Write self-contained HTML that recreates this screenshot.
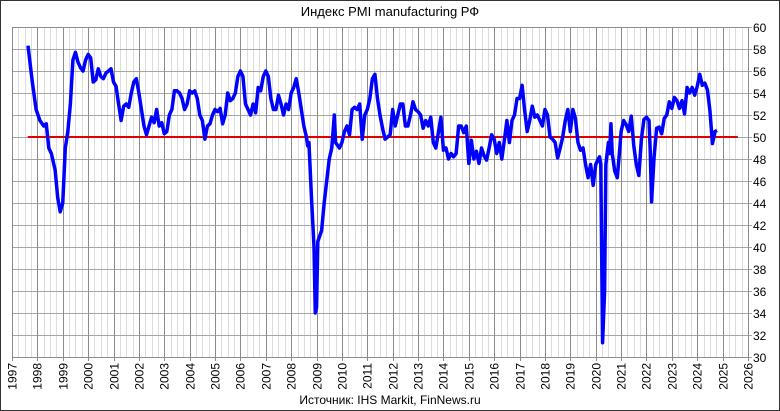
<!DOCTYPE html>
<html><head><meta charset="utf-8"><style>
body{margin:0;background:#fff}
svg{display:block;font-family:"Liberation Sans",sans-serif}
</style></head><body>
<svg width="780" height="411" viewBox="0 0 780 411" xmlns="http://www.w3.org/2000/svg">
<rect x="0.5" y="0.5" width="779" height="410" fill="#fff" stroke="#333"/>
<text x="390" y="16" font-size="13" text-anchor="middle" fill="#000">Индекс PMI manufacturing РФ</text>
<g id="grid"></g>
<g transform="translate(12,357) scale(25.379,-11) translate(-1997,-30)">
<line x1="1997.62" y1="50" x2="2025.6" y2="50" stroke="#e00000" stroke-width="2" vector-effect="non-scaling-stroke"/>
<polyline fill="none" stroke="#0000ff" stroke-width="3.5" stroke-linejoin="round" vector-effect="non-scaling-stroke" points="
1997.63,58.3 1997.8,55 1997.95,52.5 1998.1,51.5 1998.25,51 1998.35,51.2 1998.45,49 1998.55,48.5 1998.7,47 1998.8,44.5 1998.9,43.2 1999.0,44 1999.1,49 1999.2,50.5 1999.3,53 1999.4,57 1999.5,57.7 1999.6,56.8 1999.7,56.3 1999.8,56 1999.9,57 2000.0,57.5 2000.1,57.2 2000.2,55 2000.3,55.2 2000.4,56.2 2000.5,55.5 2000.6,55.3 2000.7,55.8 2000.8,56 2000.9,56.2 2001.0,55 2001.1,54.6 2001.2,53 2001.3,51.5 2001.4,52.8 2001.5,53 2001.6,52.7 2001.7,54 2001.8,55 2001.9,55.3 2002.0,54 2002.1,52.5 2002.2,51 2002.3,50.2 2002.4,51 2002.5,51.8 2002.6,51.3 2002.7,52.5 2002.8,51 2002.9,51.3 2003.0,50.3 2003.1,50.5 2003.2,52 2003.3,52.5 2003.4,54.2 2003.5,54.2 2003.6,54 2003.7,53.5 2003.8,52.5 2003.9,53 2004.0,54.2 2004.1,54 2004.2,54.2 2004.3,53.5 2004.4,52 2004.5,51.5 2004.6,49.8 2004.7,51 2004.8,51.2 2004.9,52 2005.0,52.5 2005.1,52.3 2005.2,52.6 2005.3,51.2 2005.4,52 2005.5,54 2005.6,53.3 2005.7,53.5 2005.8,54 2005.9,55.5 2006.0,56 2006.1,55.5 2006.2,53 2006.3,52.5 2006.4,52 2006.5,53 2006.6,52.2 2006.7,54.5 2006.8,54.2 2006.9,55.5 2007.0,56 2007.1,55.5 2007.2,53.5 2007.3,52.5 2007.4,52.5 2007.5,53.8 2007.6,53 2007.7,52 2007.8,53 2007.9,52.5 2008.0,54 2008.1,54.5 2008.2,55.3 2008.3,54 2008.4,52.5 2008.5,51 2008.6,50 2008.65,49.2 2008.7,49.5 2008.8,44.5 2008.9,40 2008.95,34 2009.0,34.5 2009.05,40.5 2009.2,41.5 2009.3,44 2009.4,46 2009.5,48 2009.6,49 2009.7,52 2009.75,49.5 2009.9,49 2010.0,49.5 2010.1,50.5 2010.2,51 2010.3,50.2 2010.4,52.5 2010.5,52.7 2010.6,52.5 2010.7,53 2010.8,49.8 2010.9,52 2011.0,52.5 2011.1,53.5 2011.2,55.3 2011.3,55.7 2011.4,53.5 2011.5,52 2011.6,50.8 2011.7,49.8 2011.8,50 2011.9,50.2 2012.0,52.5 2012.1,51 2012.2,52 2012.3,53 2012.4,53 2012.5,51 2012.6,51 2012.7,52 2012.8,53.2 2012.9,52.5 2013.0,52.3 2013.1,52 2013.2,50.8 2013.3,51.5 2013.4,51 2013.5,51.8 2013.6,49.5 2013.7,49 2013.8,50.4 2013.9,51.8 2014.0,48.8 2014.1,49 2014.2,48 2014.3,48.5 2014.4,48.2 2014.5,48.5 2014.6,51 2014.7,51 2014.8,50.4 2014.9,51 2015.0,47.6 2015.1,49.7 2015.2,48 2015.3,48.7 2015.4,47.6 2015.5,49 2015.6,48.3 2015.7,47.9 2015.8,49 2015.9,50.2 2016.0,49.8 2016.1,48.5 2016.2,49.5 2016.3,48 2016.4,49.7 2016.5,51.5 2016.6,49.5 2016.7,51.5 2016.8,52 2016.9,53.5 2017.0,53.5 2017.1,54.7 2017.2,52.4 2017.3,50.5 2017.4,51.5 2017.5,52.8 2017.6,51.8 2017.7,52 2017.8,51.5 2017.9,51 2018.0,52.5 2018.1,52 2018.2,50 2018.3,49.8 2018.4,49.5 2018.5,48.1 2018.6,49 2018.7,50 2018.8,51.5 2018.9,52.5 2019.0,50.5 2019.1,52.5 2019.2,51.7 2019.3,49.5 2019.4,48.8 2019.5,49 2019.6,47.5 2019.7,46.3 2019.8,47.5 2019.9,45.6 2020.0,47.5 2020.1,48 2020.15,48.2 2020.2,47.5 2020.27,31.3 2020.35,36 2020.4,47.5 2020.5,49.5 2020.55,48.5 2020.6,51.2 2020.65,48.5 2020.75,46.9 2020.85,46.3 2020.95,49 2021.0,50.5 2021.1,51.5 2021.2,51.1 2021.3,50.5 2021.4,51.9 2021.5,49.2 2021.6,47.5 2021.7,46.5 2021.8,49.8 2021.9,51.6 2022.0,51.8 2022.1,51.5 2022.15,48.6 2022.2,44.1 2022.3,48.2 2022.4,50.8 2022.5,50.9 2022.6,50.3 2022.7,51.7 2022.8,52 2022.9,53.2 2023.0,52.6 2023.1,53.6 2023.2,53.3 2023.3,52.6 2023.4,53.3 2023.5,52.1 2023.6,54.5 2023.7,54 2023.8,54.5 2023.9,53.8 2024.0,54.6 2024.1,55.7 2024.2,54.7 2024.3,54.9 2024.4,54.3 2024.5,52.4 2024.6,49.4 2024.7,50.5 2024.78,50.6"/>
</g>
<text x="390" y="404" font-size="12" text-anchor="middle" fill="#000">Источник: IHS Markit,  FinNews.ru</text>
<script>
(function(){
var ns="http://www.w3.org/2000/svg",g=document.getElementById("grid");
function el(n,a){var e=document.createElementNS(ns,n);for(var k in a)e.setAttribute(k,a[k]);g.appendChild(e);return e;}
var L=12,R=748,T=27,B=357,px=(R-L)/29;
for(var y=0;y<29;y++)for(var j=1;j<4;j++){var x=Math.round(L+(y+j/4)*px)+0.5;el("line",{x1:x,y1:T,x2:x,y2:B,stroke:"#dcdcdc","stroke-width":1});}
for(var v=30;v<=60;v+=2){var yy=Math.round(B-(v-30)*11)+0.5;el("line",{x1:L,y1:yy,x2:R+4,y2:yy,stroke:"#a6a6a6","stroke-width":1});
var t=el("text",{x:753,y:yy+4.5,"font-size":12,fill:"#000"});t.textContent=v;}
for(var y=0;y<=29;y++){var x=Math.round(L+y*px)+0.5;el("line",{x1:x,y1:T,x2:x,y2:B+4,stroke:"#8c8c8c","stroke-width":1});
var t=el("text",{x:0,y:0,"font-size":12,fill:"#000","text-anchor":"end",transform:"translate("+(x+4)+","+(B+6)+") rotate(-90)"});t.textContent=1997+y;}
el("rect",{x:L+0.5,y:T+0.5,width:R-L,height:B-T,fill:"none",stroke:"#8c8c8c","stroke-width":1});
})();
</script>
</svg>
</body></html>
